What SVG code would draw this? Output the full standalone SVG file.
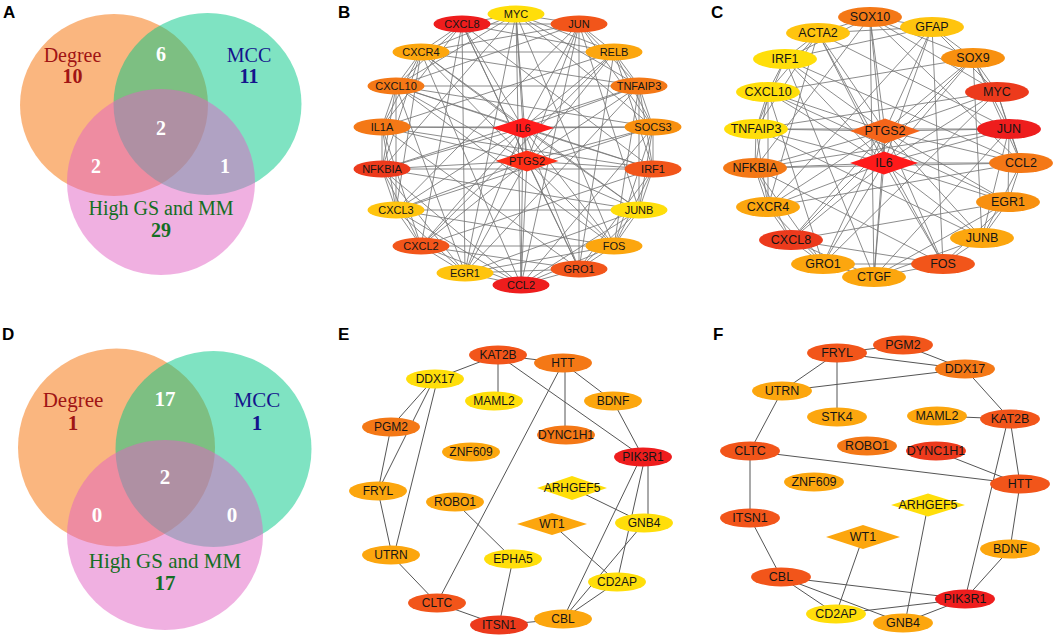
<svg xmlns="http://www.w3.org/2000/svg" width="1059" height="639" viewBox="0 0 1059 639">
<style>
.pl{font-family:"Liberation Sans",Arial,sans-serif;font-weight:bold;font-size:17px;fill:#000}
.vt{font-family:"Liberation Serif","Times New Roman",serif;text-anchor:middle;font-size:20px}
.vd{font-size:21px}
.vb{font-weight:bold}
.deg{fill:#A01414}.mcc{fill:#14148C}.gs{fill:#146E23}.wt{fill:#fff;font-weight:bold}
.eo{fill:#F56D00;fill-opacity:.5}.eg{fill:#00C785;fill-opacity:.5}.ep{fill:#E161C3;fill-opacity:.5}
.ed{fill:none;stroke:#777;stroke-width:.85}
.es{fill:none;stroke:#555;stroke-width:1}
.nl{font-family:"Liberation Sans",Arial,sans-serif;text-anchor:middle;dominant-baseline:central;fill:#151515}
.fb{font-size:11px}.fc{font-size:12.5px}.fe{font-size:12px}
.c1{fill:#EE1D1D}.c2{fill:#EC3A1C}.c3{fill:#F2551A}.c4{fill:#F47816}.c5{fill:#F8900F}.c6{fill:#FCA60E}.c7{fill:#FFC40E}.c8{fill:#FFDE0A}
.dr{fill:#FF1A1A}.dr2{fill:#FF2E16}.do{fill:#F5651A}
</style>
<rect width="1059" height="639" fill="#fff"/>

<!-- Panel labels -->
<g id="panel-labels">
<text class="pl" x="3" y="18">A</text>
<text class="pl" x="338" y="18">B</text>
<text class="pl" x="711" y="18">C</text>
<text class="pl" x="2" y="340">D</text>
<text class="pl" x="338" y="340">E</text>
<text class="pl" x="713" y="340">F</text>
</g>

<!-- Venn A -->
<g id="venn-A">
<ellipse id="A-degree" class="eo" cx="114" cy="105" rx="94" ry="91"/>
<ellipse id="A-mcc" class="eg" cx="207.5" cy="104" rx="94" ry="91"/>
<ellipse id="A-gsmm" class="ep" cx="161" cy="182" rx="94" ry="93"/>
<text class="vt deg" x="72.5" y="62">Degree</text>
<text class="vt deg vb" x="72.5" y="83">10</text>
<text class="vt mcc" x="249" y="62">MCC</text>
<text class="vt mcc vb" x="249" y="83">11</text>
<text class="vt wt" x="161" y="61">6</text>
<text class="vt wt" x="161" y="135">2</text>
<text class="vt wt" x="96" y="173">2</text>
<text class="vt wt" x="225" y="173">1</text>
<text class="vt gs" x="161" y="215">High GS and MM</text>
<text class="vt gs vb" x="161" y="237">29</text>
</g>

<!-- Venn D -->
<g id="venn-D">
<ellipse id="D-degree" class="eo" cx="116.5" cy="447.5" rx="98.5" ry="99"/>
<ellipse id="D-mcc" class="eg" cx="213.5" cy="449" rx="98" ry="98"/>
<ellipse id="D-gsmm" class="ep" cx="165" cy="535" rx="98" ry="95"/>
<text class="vt vd deg" x="73" y="407">Degree</text>
<text class="vt vd deg vb" x="73" y="430">1</text>
<text class="vt vd mcc" x="257" y="407">MCC</text>
<text class="vt vd mcc vb" x="257" y="430">1</text>
<text class="vt vd wt" x="165" y="406">17</text>
<text class="vt vd wt" x="165" y="484">2</text>
<text class="vt vd wt" x="97" y="522">0</text>
<text class="vt vd wt" x="232" y="522">0</text>
<text class="vt vd gs" x="165" y="568">High GS and MM</text>
<text class="vt vd gs vb" x="165" y="590">17</text>
</g>

<!-- Panel B connectors -->
<g id="edges-B" class="ed">
<path d="M523 128L516 14M523 128L579 24M523 128L614 52M523 128L639 86M523 128L653 127M523 128L653 169M523 128L639 210M523 128L614 246M523 128L579 269M523 128L521 285M523 128L465 273M523 128L421 246M523 128L396 210M523 128L382 169M523 128L382 127M523 128L396 86M523 128L421 52M523 128L462 24M523 128L527 161"/>
<path d="M527 161L516 14M527 161L579 24M527 161L614 52M527 161L639 86M527 161L653 127M527 161L653 169M527 161L639 210M527 161L614 246M527 161L579 269M527 161L521 285M527 161L465 273M527 161L421 246M527 161L396 210M527 161L382 169M527 161L382 127M527 161L396 86M527 161L421 52M527 161L462 24"/>
<path d="M516 14L579 24M516 14L614 52M516 14L639 86M516 14L653 127M516 14L614 246M516 14L521 285M516 14L465 273M516 14L382 169M516 14L396 86M516 14L421 52M516 14L462 24"/>
<path d="M579 24L614 52M579 24L639 86M579 24L653 127M579 24L639 210M579 24L579 269M579 24L521 285M579 24L396 210M579 24L396 86M579 24L421 52M579 24L462 24"/>
<path d="M614 52L639 86M614 52L653 127M614 52L653 169M614 52L579 269M614 52L421 246M614 52L382 127M614 52L421 52M614 52L462 24"/>
<path d="M639 86L653 127M639 86L653 169M639 86L639 210M639 86L614 246M639 86L465 273M639 86L382 169M639 86L396 86M639 86L421 52"/>
<path d="M653 127L653 169M653 127L639 210M653 127L614 246M653 127L521 285M653 127L396 210M653 127L382 127M653 127L396 86"/>
<path d="M653 169L639 210M653 169L614 246M653 169L579 269M653 169L421 246M653 169L382 169M653 169L382 127M653 169L462 24M653 169L396 86"/>
<path d="M639 210L614 246M639 210L579 269M639 210L521 285M639 210L465 273M639 210L396 210M639 210L382 169M639 210L421 52"/>
<path d="M614 246L579 269M614 246L521 285M614 246L465 273M614 246L421 246M614 246L396 210M614 246L396 86"/>
<path d="M579 269L521 285M579 269L465 273M579 269L421 246M579 269L382 127M579 269L462 24"/>
<path d="M521 285L465 273M521 285L421 246M521 285L396 210M521 285L382 169M521 285L421 52"/>
<path d="M465 273L421 246M465 273L396 210M465 273L382 169M465 273L396 86M465 273L462 24"/>
<path d="M421 246L396 210M421 246L382 169M421 246L382 127M421 246L462 24"/>
<path d="M396 210L382 169M396 210L382 127M396 210L396 86M396 210L421 52"/>
<path d="M382 169L382 127M382 169L396 86M382 169L421 52"/>
<path d="M382 127L396 86M382 127L421 52M382 127L462 24"/>
<path d="M396 86L421 52M396 86L462 24M421 52L462 24"/>
</g>

<!-- Panel B nodes -->
<g id="B-MYC"><ellipse cx="516" cy="14" rx="28.5" ry="8.5" class="c8"/><text class="nl fb" x="516" y="14">MYC</text></g>
<g id="B-JUN"><ellipse cx="579" cy="24" rx="28.5" ry="8.5" class="c3"/><text class="nl fb" x="579" y="24">JUN</text></g>
<g id="B-RELB"><ellipse cx="614" cy="52" rx="28.5" ry="8.5" class="c6"/><text class="nl fb" x="614" y="52">RELB</text></g>
<g id="B-TNFAIP3"><ellipse cx="639" cy="86" rx="28.5" ry="8.5" class="c4"/><text class="nl fb" x="639" y="86">TNFAIP3</text></g>
<g id="B-SOCS3"><ellipse cx="653" cy="127" rx="28.5" ry="8.5" class="c5"/><text class="nl fb" x="653" y="127">SOCS3</text></g>
<g id="B-IRF1"><ellipse cx="653" cy="169" rx="28.5" ry="8.5" class="c3"/><text class="nl fb" x="653" y="169">IRF1</text></g>
<g id="B-JUNB"><ellipse cx="639" cy="210" rx="28.5" ry="8.5" class="c8"/><text class="nl fb" x="639" y="210">JUNB</text></g>
<g id="B-FOS"><ellipse cx="614" cy="246" rx="28.5" ry="8.5" class="c6"/><text class="nl fb" x="614" y="246">FOS</text></g>
<g id="B-GRO1"><ellipse cx="579" cy="269" rx="28.5" ry="8.5" class="c3"/><text class="nl fb" x="579" y="269">GRO1</text></g>
<g id="B-CCL2"><ellipse cx="521" cy="285" rx="28.5" ry="8.5" class="c1"/><text class="nl fb" x="521" y="285">CCL2</text></g>
<g id="B-EGR1"><ellipse cx="465" cy="273" rx="28.5" ry="8.5" class="c7"/><text class="nl fb" x="465" y="273">EGR1</text></g>
<g id="B-CXCL2"><ellipse cx="421" cy="246" rx="28.5" ry="8.5" class="c3"/><text class="nl fb" x="421" y="246">CXCL2</text></g>
<g id="B-CXCL3"><ellipse cx="396" cy="210" rx="28.5" ry="8.5" class="c7"/><text class="nl fb" x="396" y="210">CXCL3</text></g>
<g id="B-NFKBIA"><ellipse cx="382" cy="169" rx="28.5" ry="8.5" class="c2"/><text class="nl fb" x="382" y="169">NFKBIA</text></g>
<g id="B-IL1A"><ellipse cx="382" cy="127" rx="28.5" ry="8.5" class="c4"/><text class="nl fb" x="382" y="127">IL1A</text></g>
<g id="B-CXCL10"><ellipse cx="396" cy="86" rx="28.5" ry="8.5" class="c4"/><text class="nl fb" x="396" y="86">CXCL10</text></g>
<g id="B-CXCR4"><ellipse cx="421" cy="52" rx="28.5" ry="8.5" class="c6"/><text class="nl fb" x="421" y="52">CXCR4</text></g>
<g id="B-CXCL8"><ellipse cx="462" cy="24" rx="28.5" ry="8.5" class="c1"/><text class="nl fb" x="462" y="24">CXCL8</text></g>
<g id="B-IL6"><polygon points="492,128 523,118 554,128 523,138" class="dr"/><text class="nl fb" x="523" y="128">IL6</text></g>
<g id="B-PTGS2"><polygon points="495.5,161 527,150.5 558.5,161 527,171.5" class="dr2"/><text class="nl fb" x="527" y="161">PTGS2</text></g>

<!-- Panel C connectors -->
<g id="edges-C" class="ed">
<path d="M885 131L870 17M885 131L932 27M885 131L973 58M885 131L997 92M885 131L1009 129M885 131L1021 163M885 131L1008 202M885 131L982 238M885 131L943 264M885 131L874 277M885 131L823 264M885 131L791 240M885 131L768 207M885 131L755 168M885 131L756 129M885 131L768 92M885 131L785 59M885 131L818 33M885 131L884 163"/>
<path d="M884 163L870 17M884 163L932 27M884 163L973 58M884 163L997 92M884 163L1009 129M884 163L1021 163M884 163L1008 202M884 163L982 238M884 163L943 264M884 163L874 277M884 163L823 264M884 163L791 240M884 163L768 207M884 163L755 168M884 163L756 129M884 163L768 92M884 163L785 59M884 163L818 33"/>
<path d="M870 17L932 27M870 17L973 58M870 17L997 92M870 17L1021 163M870 17L874 277M870 17L755 168M870 17L785 59M870 17L818 33"/>
<path d="M932 27L973 58M932 27L997 92M932 27L943 264M932 27L768 207M932 27L785 59M932 27L818 33"/>
<path d="M973 58L997 92M973 58L1009 129M973 58L1021 163M973 58L982 238M973 58L791 240M973 58L768 92"/>
<path d="M997 92L1009 129M997 92L1021 163M997 92L823 264M997 92L756 129"/>
<path d="M1009 129L1021 163M1009 129L1008 202M1009 129L982 238M1009 129L874 277M1009 129L755 168M1009 129L756 129M1009 129L818 33"/>
<path d="M1021 163L1008 202M1021 163L982 238M1021 163L768 207M1021 163L755 168M1021 163L785 59"/>
<path d="M1008 202L982 238M1008 202L943 264M1008 202L874 277M1008 202L791 240M1008 202L768 92"/>
<path d="M982 238L943 264M982 238L874 277M982 238L756 129"/>
<path d="M943 264L874 277M943 264L823 264M943 264L791 240M943 264L755 168M943 264L818 33"/>
<path d="M874 277L823 264M874 277L791 240M874 277L785 59"/>
<path d="M823 264L791 240M823 264L768 207M823 264L755 168M823 264L768 92"/>
<path d="M791 240L768 207M791 240L755 168"/>
<path d="M768 207L755 168M768 207L756 129M768 207L768 92M768 207L818 33"/>
<path d="M755 168L756 129M755 168L768 92"/>
<path d="M756 129L768 92M756 129L785 59M756 129L818 33"/>
<path d="M768 92L785 59M768 92L818 33M785 59L818 33"/>
</g>

<!-- Panel C nodes -->
<g id="C-SOX10"><ellipse cx="870" cy="17" rx="32" ry="10" class="c4"/><text class="nl fc" x="870" y="17">SOX10</text></g>
<g id="C-GFAP"><ellipse cx="932" cy="27" rx="32" ry="10" class="c7"/><text class="nl fc" x="932" y="27">GFAP</text></g>
<g id="C-SOX9"><ellipse cx="973" cy="58" rx="32" ry="10" class="c5"/><text class="nl fc" x="973" y="58">SOX9</text></g>
<g id="C-MYC"><ellipse cx="997" cy="92" rx="32" ry="10" class="c2"/><text class="nl fc" x="997" y="92">MYC</text></g>
<g id="C-JUN"><ellipse cx="1009" cy="129" rx="32" ry="10" class="c1"/><text class="nl fc" x="1009" y="129">JUN</text></g>
<g id="C-CCL2"><ellipse cx="1021" cy="163" rx="32" ry="10" class="c4"/><text class="nl fc" x="1021" y="163">CCL2</text></g>
<g id="C-EGR1"><ellipse cx="1008" cy="202" rx="32" ry="10" class="c5"/><text class="nl fc" x="1008" y="202">EGR1</text></g>
<g id="C-JUNB"><ellipse cx="982" cy="238" rx="32" ry="10" class="c6"/><text class="nl fc" x="982" y="238">JUNB</text></g>
<g id="C-FOS"><ellipse cx="943" cy="264" rx="32" ry="10" class="c3"/><text class="nl fc" x="943" y="264">FOS</text></g>
<g id="C-CTGF"><ellipse cx="874" cy="277" rx="32" ry="10" class="c6"/><text class="nl fc" x="874" y="277">CTGF</text></g>
<g id="C-GRO1"><ellipse cx="823" cy="264" rx="32" ry="10" class="c6"/><text class="nl fc" x="823" y="264">GRO1</text></g>
<g id="C-CXCL8"><ellipse cx="791" cy="240" rx="32" ry="10" class="c2"/><text class="nl fc" x="791" y="240">CXCL8</text></g>
<g id="C-CXCR4"><ellipse cx="768" cy="207" rx="32" ry="10" class="c6"/><text class="nl fc" x="768" y="207">CXCR4</text></g>
<g id="C-NFKBIA"><ellipse cx="755" cy="168" rx="32" ry="10" class="c4"/><text class="nl fc" x="755" y="168">NFKBIA</text></g>
<g id="C-TNFAIP3"><ellipse cx="756" cy="129" rx="32" ry="10" class="c8"/><text class="nl fc" x="756" y="129">TNFAIP3</text></g>
<g id="C-CXCL10"><ellipse cx="768" cy="92" rx="32" ry="10" class="c8"/><text class="nl fc" x="768" y="92">CXCL10</text></g>
<g id="C-IRF1"><ellipse cx="785" cy="59" rx="32" ry="10" class="c8"/><text class="nl fc" x="785" y="59">IRF1</text></g>
<g id="C-ACTA2"><ellipse cx="818" cy="33" rx="32" ry="10" class="c7"/><text class="nl fc" x="818" y="33">ACTA2</text></g>
<g id="C-PTGS2"><polygon points="850,131 885,118.5 920,131 885,143.5" class="do"/><text class="nl fc" x="885" y="131">PTGS2</text></g>
<g id="C-IL6"><polygon points="850,163 884,151.5 918,163 884,174.5" class="dr"/><text class="nl fc" x="884" y="163">IL6</text></g>

<!-- Panel E connectors -->
<g id="edges-E" class="es">
<line x1="435" y1="379" x2="498" y2="355"/>
<line x1="498" y1="355" x2="563" y2="363"/>
<line x1="498" y1="355" x2="498" y2="401"/>
<line x1="498" y1="355" x2="643" y2="457"/>
<line x1="565" y1="363" x2="565" y2="435"/>
<line x1="563" y1="363" x2="613" y2="401"/>
<line x1="563" y1="363" x2="437" y2="603"/>
<line x1="613" y1="401" x2="643" y2="457"/>
<line x1="432" y1="381" x2="391" y2="427"/>
<line x1="433" y1="381" x2="378" y2="491"/>
<line x1="437" y1="381" x2="394" y2="555"/>
<line x1="391" y1="427" x2="378" y2="491"/>
<line x1="378" y1="491" x2="392" y2="555"/>
<line x1="391" y1="555" x2="437" y2="603"/>
<line x1="437" y1="603" x2="499" y2="625"/>
<line x1="499" y1="625" x2="563" y2="619"/>
<line x1="499" y1="625" x2="513" y2="559"/>
<line x1="455" y1="502" x2="513" y2="559"/>
<line x1="572" y1="488" x2="644" y2="523"/>
<line x1="552" y1="524" x2="617" y2="582"/>
<line x1="648" y1="457" x2="648" y2="523"/>
<line x1="645" y1="457" x2="617" y2="582"/>
<line x1="641" y1="457" x2="563" y2="619"/>
<line x1="644" y1="523" x2="563" y2="619"/>
<line x1="617" y1="582" x2="563" y2="619"/>
</g>

<!-- Panel E nodes -->
<g id="E-KAT2B"><ellipse cx="498" cy="355" rx="29" ry="9.5" class="c3"/><text class="nl fe" x="498" y="355">KAT2B</text></g>
<g id="E-HTT"><ellipse cx="563" cy="363" rx="29" ry="9.5" class="c4"/><text class="nl fe" x="563" y="363">HTT</text></g>
<g id="E-DDX17"><ellipse cx="435" cy="379" rx="29" ry="9.5" class="c8"/><text class="nl fe" x="435" y="379">DDX17</text></g>
<g id="E-MAML2"><ellipse cx="494" cy="401" rx="29" ry="9.5" class="c8"/><text class="nl fe" x="494" y="401">MAML2</text></g>
<g id="E-BDNF"><ellipse cx="613" cy="401" rx="29" ry="9.5" class="c6"/><text class="nl fe" x="613" y="401">BDNF</text></g>
<g id="E-PGM2"><ellipse cx="391" cy="427" rx="29" ry="9.5" class="c4"/><text class="nl fe" x="391" y="427">PGM2</text></g>
<g id="E-DYNC1H1"><ellipse cx="566" cy="435" rx="29" ry="9.5" class="c4"/><text class="nl fe" x="566" y="435">DYNC1H1</text></g>
<g id="E-ZNF609"><ellipse cx="471" cy="452" rx="29" ry="9.5" class="c6"/><text class="nl fe" x="471" y="452">ZNF609</text></g>
<g id="E-PIK3R1"><ellipse cx="643" cy="457" rx="29" ry="9.5" class="c1"/><text class="nl fe" x="643" y="457">PIK3R1</text></g>
<g id="E-FRYL"><ellipse cx="378" cy="491" rx="29" ry="9.5" class="c6"/><text class="nl fe" x="378" y="491">FRYL</text></g>
<g id="E-ROBO1"><ellipse cx="455" cy="502" rx="29" ry="9.5" class="c6"/><text class="nl fe" x="455" y="502">ROBO1</text></g>
<g id="E-ARHGEF5"><polygon points="537,488 572,476 607,488 572,500" class="c8"/><text class="nl fe" x="572" y="488">ARHGEF5</text></g>
<g id="E-WT1"><polygon points="517,524 552,513 587,524 552,535" class="c6"/><text class="nl fe" x="552" y="524">WT1</text></g>
<g id="E-GNB4"><ellipse cx="644" cy="523" rx="29" ry="9.5" class="c8"/><text class="nl fe" x="644" y="523">GNB4</text></g>
<g id="E-UTRN"><ellipse cx="391" cy="555" rx="29" ry="9.5" class="c6"/><text class="nl fe" x="391" y="555">UTRN</text></g>
<g id="E-EPHA5"><ellipse cx="513" cy="559" rx="29" ry="9.5" class="c8"/><text class="nl fe" x="513" y="559">EPHA5</text></g>
<g id="E-CD2AP"><ellipse cx="617" cy="582" rx="29" ry="9.5" class="c8"/><text class="nl fe" x="617" y="582">CD2AP</text></g>
<g id="E-CLTC"><ellipse cx="437" cy="603" rx="29" ry="9.5" class="c3"/><text class="nl fe" x="437" y="603">CLTC</text></g>
<g id="E-CBL"><ellipse cx="563" cy="619" rx="29" ry="9.5" class="c6"/><text class="nl fe" x="563" y="619">CBL</text></g>
<g id="E-ITSN1"><ellipse cx="499" cy="625" rx="29" ry="9.5" class="c2"/><text class="nl fe" x="499" y="625">ITSN1</text></g>

<!-- Panel F connectors -->
<g id="edges-F" class="es">
<line x1="837" y1="353" x2="903" y2="345"/>
<line x1="837" y1="353" x2="965" y2="369"/>
<line x1="903" y1="345" x2="965" y2="369"/>
<line x1="837" y1="353" x2="782" y2="391"/>
<line x1="837" y1="353" x2="837" y2="417"/>
<line x1="782" y1="391" x2="965" y2="369"/>
<line x1="965" y1="369" x2="1010" y2="419"/>
<line x1="937" y1="416" x2="1010" y2="419"/>
<line x1="1010" y1="419" x2="1020" y2="484"/>
<line x1="1008" y1="419" x2="965" y2="599"/>
<line x1="936" y1="451" x2="1020" y2="484"/>
<line x1="750" y1="451" x2="1020" y2="484"/>
<line x1="782" y1="391" x2="750" y2="451"/>
<line x1="750" y1="451" x2="750" y2="518"/>
<line x1="750" y1="518" x2="781" y2="577"/>
<line x1="1020" y1="484" x2="1010" y2="549"/>
<line x1="1010" y1="549" x2="965" y2="599"/>
<line x1="781" y1="577" x2="965" y2="599"/>
<line x1="781" y1="577" x2="836" y2="614"/>
<line x1="781" y1="577" x2="903" y2="623"/>
<line x1="836" y1="614" x2="965" y2="599"/>
<line x1="903" y1="623" x2="965" y2="599"/>
<line x1="863" y1="537" x2="836" y2="614"/>
<line x1="928" y1="505" x2="905" y2="623"/>
</g>

<!-- Panel F nodes -->
<g id="F-FRYL"><ellipse cx="837" cy="353" rx="30" ry="9.5" class="c3"/><text class="nl fc" x="837" y="353">FRYL</text></g>
<g id="F-PGM2"><ellipse cx="903" cy="345" rx="30" ry="9.5" class="c3"/><text class="nl fc" x="903" y="345">PGM2</text></g>
<g id="F-DDX17"><ellipse cx="965" cy="369" rx="30" ry="9.5" class="c4"/><text class="nl fc" x="965" y="369">DDX17</text></g>
<g id="F-UTRN"><ellipse cx="782" cy="391" rx="30" ry="9.5" class="c6"/><text class="nl fc" x="782" y="391">UTRN</text></g>
<g id="F-STK4"><ellipse cx="837" cy="417" rx="30" ry="9.5" class="c6"/><text class="nl fc" x="837" y="417">STK4</text></g>
<g id="F-MAML2"><ellipse cx="937" cy="416" rx="30" ry="9.5" class="c6"/><text class="nl fc" x="937" y="416">MAML2</text></g>
<g id="F-KAT2B"><ellipse cx="1010" cy="419" rx="30" ry="9.5" class="c3"/><text class="nl fc" x="1010" y="419">KAT2B</text></g>
<g id="F-ROBO1"><ellipse cx="867" cy="446" rx="30" ry="9.5" class="c4"/><text class="nl fc" x="867" y="446">ROBO1</text></g>
<g id="F-DYNC1H1"><ellipse cx="936" cy="451" rx="30" ry="9.5" class="c2"/><text class="nl fc" x="936" y="451">DYNC1H1</text></g>
<g id="F-CLTC"><ellipse cx="750" cy="451" rx="30" ry="9.5" class="c3"/><text class="nl fc" x="750" y="451">CLTC</text></g>
<g id="F-ZNF609"><ellipse cx="814" cy="482" rx="30" ry="9.5" class="c6"/><text class="nl fc" x="814" y="482">ZNF609</text></g>
<g id="F-HTT"><ellipse cx="1020" cy="484" rx="30" ry="9.5" class="c3"/><text class="nl fc" x="1020" y="484">HTT</text></g>
<g id="F-ARHGEF5"><polygon points="891,505 928,493.5 965,505 928,516.5" class="c8"/><text class="nl fc" x="928" y="505">ARHGEF5</text></g>
<g id="F-ITSN1"><ellipse cx="750" cy="518" rx="30" ry="9.5" class="c3"/><text class="nl fc" x="750" y="518">ITSN1</text></g>
<g id="F-WT1"><polygon points="826,537 863,525 900,537 863,549" class="c6"/><text class="nl fc" x="863" y="537">WT1</text></g>
<g id="F-BDNF"><ellipse cx="1010" cy="549" rx="30" ry="9.5" class="c6"/><text class="nl fc" x="1010" y="549">BDNF</text></g>
<g id="F-CBL"><ellipse cx="781" cy="577" rx="30" ry="9.5" class="c3"/><text class="nl fc" x="781" y="577">CBL</text></g>
<g id="F-PIK3R1"><ellipse cx="965" cy="599" rx="30" ry="9.5" class="c1"/><text class="nl fc" x="965" y="599">PIK3R1</text></g>
<g id="F-CD2AP"><ellipse cx="836" cy="614" rx="30" ry="9.5" class="c8"/><text class="nl fc" x="836" y="614">CD2AP</text></g>
<g id="F-GNB4"><ellipse cx="903" cy="623" rx="30" ry="9.5" class="c6"/><text class="nl fc" x="903" y="623">GNB4</text></g>
</svg>
